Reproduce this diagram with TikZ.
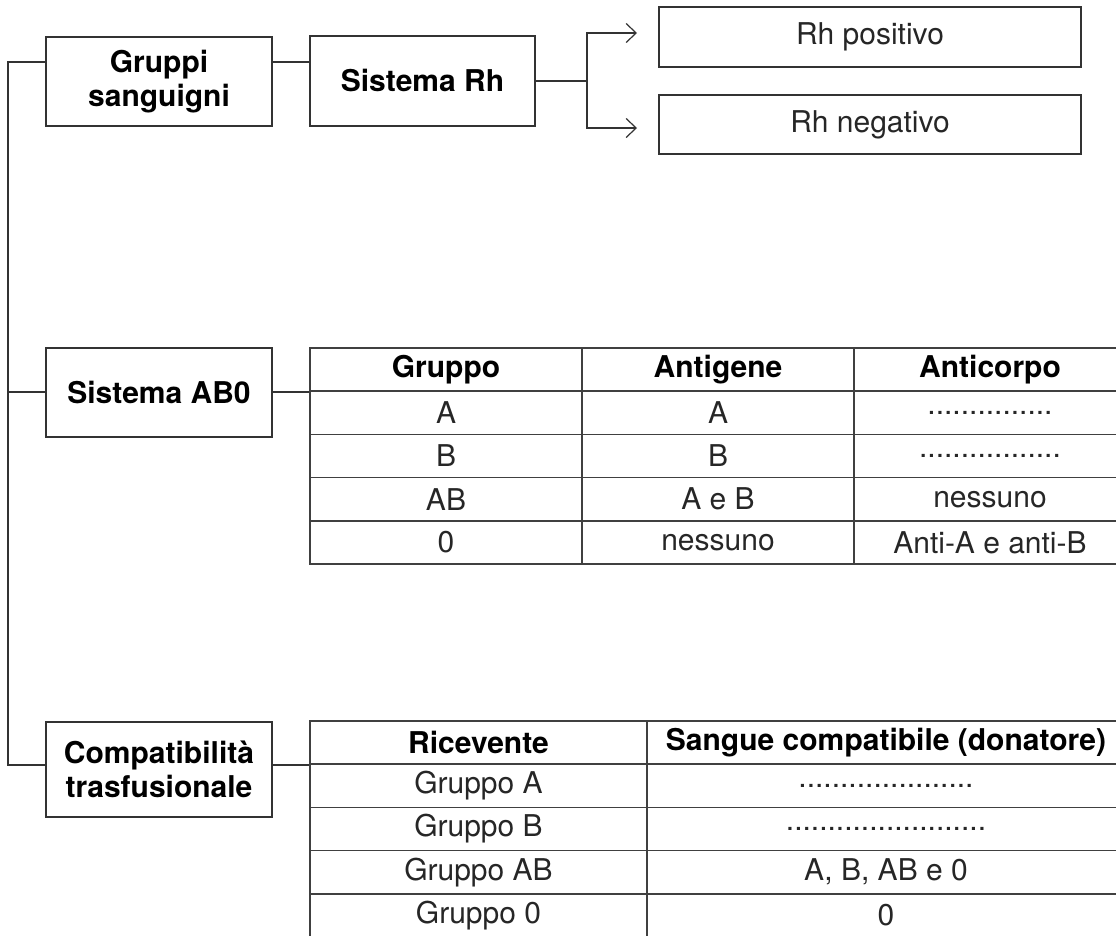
\documentclass[tikz,border=0pt]{standalone}
\usepackage{fontspec}
\setmainfont{TeX Gyre Heros}
\usetikzlibrary{arrows.meta,calc}
\begin{document}
\begin{tikzpicture}[x=1pt,y=1pt,
  box/.style={draw=black!80, line width=1.5pt, align=center, inner sep=0pt, text=black,
    font=\bfseries\fontsize{30}{34}\selectfont},
  rhbox/.style={draw=black!80, line width=1.2pt, inner sep=0pt, minimum width=422pt,
    minimum height=60pt, text=black!85, font=\fontsize{30}{34}\selectfont},
  cell/.style={draw=black!75, line width=1.5pt, inner sep=0pt, minimum height=43.2pt,
    text=black!85, font=\fontsize{30}{34}\selectfont},
  head/.style={cell, text=black, font=\bfseries\fontsize{30}{34}\selectfont},
  link/.style={draw=black!80, line width=1.2pt},
  arr/.style={link, -{Straight Barb[length=10pt,width=19pt]}}
]
\useasboundingbox (0,0) rectangle (1116,-935);

% left boxes
\node[box, minimum width=226pt, minimum height=89pt] (gs) at (159,-81.5) {Gruppi\\sanguigni};
\node[box, minimum width=225pt, minimum height=90pt] (rh) at (422.5,-81) {Sistema Rh};
\node[rhbox] (rhp) at (870,-37) {Rh positivo};
\node[rhbox, minimum height=59pt] (rhn) at (870,-124.5) {Rh negativo};
\node[box, minimum width=226pt, minimum height=89pt] (ab0) at (159,-392.5) {Sistema AB0};
\node[box, minimum width=226pt, minimum height=95pt] (comp) at (159,-769.5) {Compatibilità\\trasfusionale};

% table 1
\node[head, minimum width=272pt] (t1h1) at (446,-369.6) {Gruppo};
\node[head, minimum width=272pt] (t1h2) at (718,-369.6) {Antigene};
\node[head, minimum width=272pt] (t1h3) at (990,-369.6) {Anticorpo};
\foreach \i/\y/\a/\b/\c in {1/-412.8/A/A/{...............},
                            2/-456/B/B/{.................},
                            3/-499.2/AB/A e B/nessuno,
                            4/-542.4/0/nessuno/Anti-A e anti-B}{
  \node[cell, minimum width=272pt] (t1-\i-1) at (446,\y) {\a};
  \node[cell, minimum width=272pt] (t1-\i-2) at (718,\y) {\b};
  \node[cell, minimum width=272pt] (t1-\i-3) at (990,\y) {\c};
}

% table 2
\node[head, minimum width=337pt] (t2h1) at (478.5,-742.6) {Ricevente};
\node[head, minimum width=478pt] (t2h2) at (886,-742.6) {Sangue compatibile (donatore)};
\foreach \i/\y/\a/\b in {1/-785.8/Gruppo A/{.....................},
                         2/-829/Gruppo B/{........................},
                         3/-872.2/Gruppo AB/{A, B, AB e 0},
                         4/-915.4/Gruppo 0/0}{
  \node[cell, minimum width=337pt] (t2-\i-1) at (478.5,\y) {\a};
  \node[cell, minimum width=478pt] (t2-\i-2) at (886,\y) {\b};
}

% connectors
\coordinate (trunk) at (8,-62);
\draw[link] (gs.west |- trunk) -- (trunk) -- (trunk |- t2h1.south west) -- (comp.west |- t2h1.south west);
\draw[link] (trunk |- t1h1.south west) -- (ab0.west |- t1h1.south west);
\draw[link] (gs.east |- trunk) -- (rh.west |- trunk);
\draw[link] (ab0.east |- t1h1.south west) -- (t1h1.south west);
\draw[link] (comp.east |- t2h1.south west) -- (t2h1.south west);
\coordinate (br) at (587,-81);
\coordinate (a1) at (637,-33);
\coordinate (a2) at (637,-128);
\draw[link] (rh.east) -- (br);
\draw[arr] (br) |- (a1);
\draw[arr] (br) |- (a2);
\end{tikzpicture}
\end{document}
